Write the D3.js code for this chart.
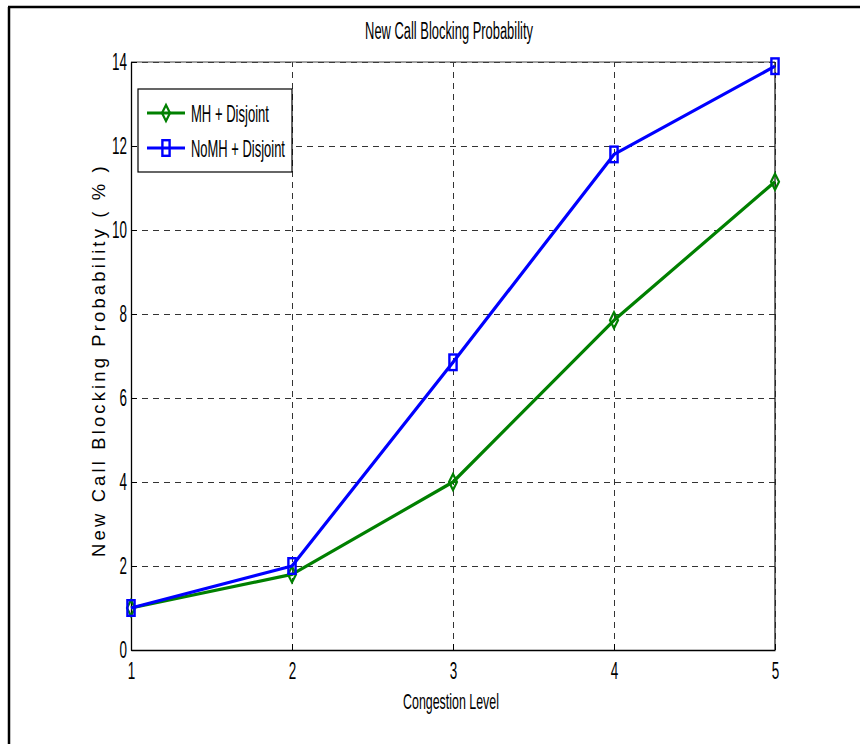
<!DOCTYPE html>
<html>
<head>
<meta charset="utf-8">
<script src="https://cdn.jsdelivr.net/npm/d3@7"></script>
<style>
  html, body { margin: 0; padding: 0; background: #fff; }
  svg { display: block; }
  text { font-family: "Liberation Sans", Arial, Helvetica, sans-serif; fill: #000; }
</style>
</head>
<body>
<svg id="chart" width="860" height="744"></svg>
<script>
// ---- data ----
const congestionLevels = [1, 2, 3, 4, 5];
const seriesNames = ["MH + Disjoint", "NoMH + Disjoint"];
const mhDisjoint = [1.0, 1.8, 4.0, 7.85, 11.15];
const nomhDisjoint = [1.0, 2.0, 6.85, 11.8, 13.9];
const yTickValues = [0, 2, 4, 6, 8, 10, 12, 14];
const xTickValues = [1, 2, 3, 4, 5];
const chartTitle = "New Call Blocking Probability";
const xTitle = "Congestion Level";
const yTitle = "New Call Blocking Probability ( % )";

const seriesColors = ["#008000", "#0000ff"];
const seriesMarkers = ["diamond", "square"];

const svg = d3.select("#chart");
const L = 131, R = 775, T = 62, B = 650;

const x = d3.scaleLinear().domain([1, 5]).range([L, R]);
const y = d3.scaleLinear().domain([0, 14]).range([B, T]);

// outer frame (left and top edges)
svg.append("line").attr("x1", 9).attr("y1", 7).attr("x2", 9).attr("y2", 744)
  .attr("stroke", "#000").attr("stroke-width", 2.5);
svg.append("line").attr("x1", 8).attr("y1", 7).attr("x2", 860).attr("y2", 7)
  .attr("stroke", "#000").attr("stroke-width", 2.5);

// grid
const gx = svg.append("g").attr("transform", `translate(0,${B})`)
  .call(d3.axisBottom(x).tickValues(xTickValues).tickSize(-(B - T)).tickFormat(""));
const gy = svg.append("g").attr("transform", `translate(${L},0)`)
  .call(d3.axisLeft(y).tickValues(yTickValues).tickSize(-(R - L)).tickFormat(""));
[gx, gy].forEach(g => {
  g.select(".domain").remove();
  g.selectAll(".tick line").attr("stroke", "#333").attr("stroke-width", 1)
    .attr("stroke-dasharray", "6,5");
});

// box
svg.append("line").attr("x1", L).attr("y1", T).attr("x2", R).attr("y2", T).attr("stroke", "#444").attr("stroke-width", 1);
svg.append("line").attr("x1", R).attr("y1", T).attr("x2", R).attr("y2", B).attr("stroke", "#222").attr("stroke-width", 1.3);

// axes with inward ticks and labels
const ax = svg.append("g").attr("transform", `translate(0,${B})`)
  .call(d3.axisBottom(x).tickValues(xTickValues).tickSizeInner(-6).tickSizeOuter(0).tickPadding(12).tickFormat(d3.format("d")));
const ay = svg.append("g").attr("transform", `translate(${L},0)`)
  .call(d3.axisLeft(y).tickValues(yTickValues).tickSizeInner(-6).tickSizeOuter(0).tickPadding(4).tickFormat(d3.format("d")));
[ax, ay].forEach(g => {
  g.select(".domain").attr("stroke", "#000").attr("stroke-width", 1.3);
  g.selectAll(".tick line").attr("stroke", "#000");
  g.selectAll(".tick text").attr("font-size", 24).attr("font-family", "Liberation Sans, Arial, sans-serif").attr("fill", "#000");
});
ax.selectAll(".tick text").attr("transform", "scale(0.56,1)");
ay.selectAll(".tick text").attr("x", 0).attr("transform", "translate(-4,0) scale(0.56,1)");

// fitted text helper
function fitText(g, str, cx, cy, size, width, anchor, rotate) {
  const t = g.append("text").attr("font-size", size).attr("text-anchor", anchor).text(str);
  const w = t.node().getComputedTextLength();
  const s = width / w;
  t.attr("transform", `translate(${cx},${cy})${rotate ? " rotate(" + rotate + ")" : ""} scale(${s},1)`);
  return t;
}

// titles
fitText(svg, chartTitle, 449, 39, 23, 168, "middle");
fitText(svg, xTitle, 451, 709, 22.5, 96, "middle");
const yl = svg.append("text").attr("font-size", 17.5).attr("text-anchor", "middle")
  .attr("letter-spacing", 3).text(yTitle);
{
  const w = yl.node().getComputedTextLength();
  const s = 394 / w;
  yl.attr("transform", `translate(105,360) rotate(-90) scale(${s},1)`);
}

// series
const series = [mhDisjoint, nomhDisjoint].map((vals, i) => ({
  name: seriesNames[i], color: seriesColors[i], marker: seriesMarkers[i],
  points: congestionLevels.map((c, j) => ({ x: c, y: vals[j] }))
}));

const line = d3.line().x(d => x(d.x)).y(d => y(d.y));

function drawMarker(g, type, color) {
  if (type === "diamond") {
    g.append("path").attr("d", "M0,-8 L4,0 L0,8 L-4,0 Z")
      .attr("fill", "none").attr("stroke", color).attr("stroke-width", 2.2);
  } else {
    g.append("rect").attr("x", -3.6).attr("y", -7.8).attr("width", 7.2).attr("height", 15.6)
      .attr("fill", "none").attr("stroke", color).attr("stroke-width", 2.4);
  }
}

series.forEach(s => {
  const g = svg.append("g");
  g.append("path").datum(s.points).attr("d", line)
    .attr("fill", "none").attr("stroke", s.color).attr("stroke-width", 3.2)
    .attr("stroke-linejoin", "round");
  s.points.forEach(p => {
    const m = g.append("g").attr("transform", `translate(${x(p.x)},${y(p.y)})`);
    drawMarker(m, s.marker, s.color);
  });
});

// legend
const lg = svg.append("g");
lg.append("rect").attr("x", 138).attr("y", 89).attr("width", 154).attr("height", 83)
  .attr("fill", "#fff").attr("stroke", "#000").attr("stroke-width", 1.2);
const legendY = [113, 148];
const legendW = [78, 94];
series.forEach((s, i) => {
  const ly = legendY[i];
  lg.append("line").attr("x1", 147).attr("x2", 185).attr("y1", ly).attr("y2", ly)
    .attr("stroke", s.color).attr("stroke-width", 3.2);
  const m = lg.append("g").attr("transform", `translate(166,${ly})`);
  drawMarker(m, s.marker, s.color);
  fitText(lg, s.name, 191, ly + 8.5, 23, legendW[i], "start");
});
</script>
</body>
</html>
